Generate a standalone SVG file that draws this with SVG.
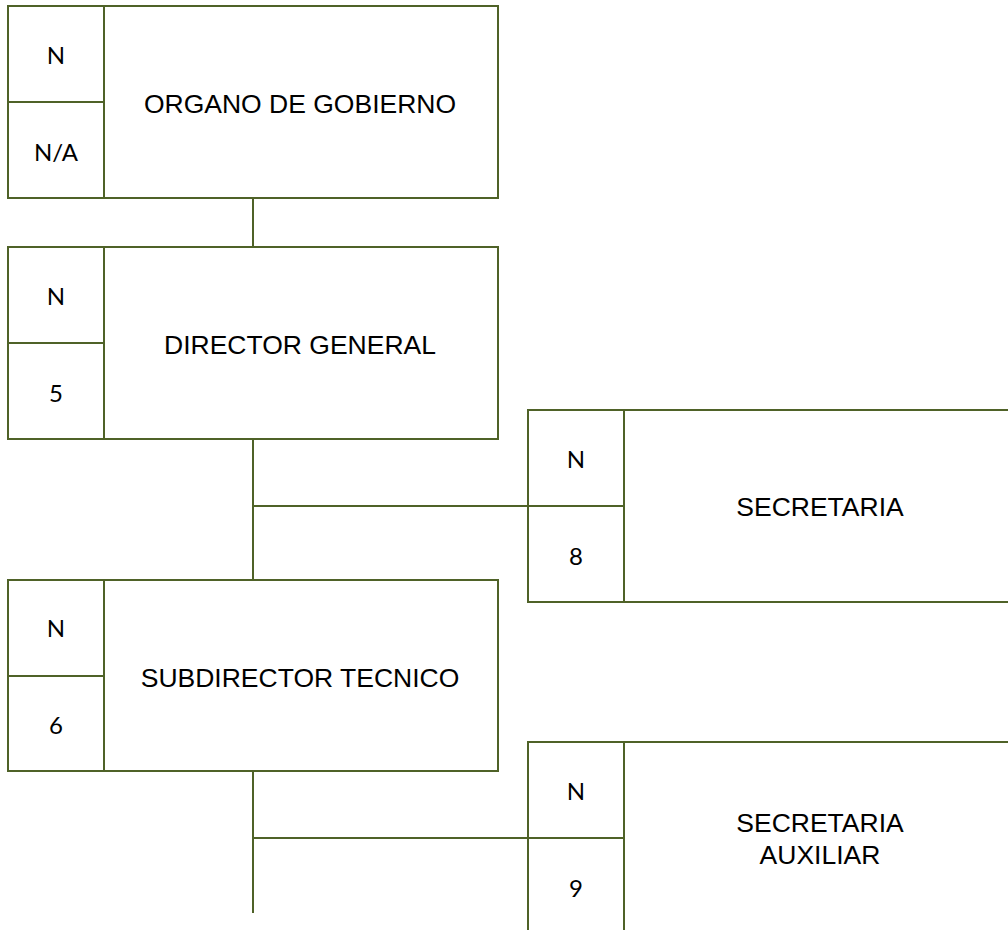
<svg xmlns="http://www.w3.org/2000/svg" width="1008" height="930" viewBox="0 0 1008 930">
  <style>
    .box { fill: #ffffff; stroke: #4f6228; stroke-width: 2; }
    .div { fill: none; stroke: #4f6228; stroke-width: 2; }
    .conn { fill: none; stroke: #4f6228; stroke-width: 2; }
    .title { font-family: "Liberation Sans", Arial, sans-serif; font-size: 26.5px; fill: #000000; text-anchor: middle; }
    .code { font-family: Lato, "Open Sans", sans-serif; font-size: 24px; fill: #000000; text-anchor: middle; }
  </style>

  <rect width="1008" height="930" fill="#ffffff"/>

  <!-- connectors -->
  <g id="connectors">
    <line class="conn" x1="253" y1="198" x2="253" y2="247"/>
    <line class="conn" x1="253" y1="439" x2="253" y2="580"/>
    <line class="conn" x1="253" y1="506" x2="528" y2="506"/>
    <line class="conn" x1="253" y1="771" x2="253" y2="913"/>
    <line class="conn" x1="253" y1="838" x2="528" y2="838"/>
  </g>

  <g id="organo-de-gobierno">
    <rect class="box" x="8" y="6" width="490" height="192"/>
    <line class="div" x1="104" y1="6" x2="104" y2="198"/>
    <line class="div" x1="8" y1="102" x2="104" y2="102"/>
    <text class="code" x="56" y="64">N</text>
    <text class="code" x="56" y="161">N/A</text>
    <text class="title" x="300" y="113">ORGANO DE GOBIERNO</text>
  </g>

  <g id="director-general">
    <rect class="box" x="8" y="247" width="490" height="192"/>
    <line class="div" x1="104" y1="247" x2="104" y2="439"/>
    <line class="div" x1="8" y1="343" x2="104" y2="343"/>
    <text class="code" x="56" y="305">N</text>
    <text class="code" x="56" y="402">5</text>
    <text class="title" x="300" y="354">DIRECTOR GENERAL</text>
  </g>

  <g id="secretaria">
    <rect class="box" x="528" y="410" width="492" height="192"/>
    <line class="div" x1="624" y1="410" x2="624" y2="602"/>
    <line class="div" x1="528" y1="506" x2="624" y2="506"/>
    <text class="code" x="576" y="468">N</text>
    <text class="code" x="576" y="565">8</text>
    <text class="title" x="820" y="516">SECRETARIA</text>
  </g>

  <g id="subdirector-tecnico">
    <rect class="box" x="8" y="580" width="490" height="191"/>
    <line class="div" x1="104" y1="580" x2="104" y2="771"/>
    <line class="div" x1="8" y1="676" x2="104" y2="676"/>
    <text class="code" x="56" y="637">N</text>
    <text class="code" x="56" y="734">6</text>
    <text class="title" x="300" y="687">SUBDIRECTOR TECNICO</text>
  </g>

  <g id="secretaria-auxiliar">
    <rect class="box" x="528" y="742" width="492" height="200"/>
    <line class="div" x1="624" y1="742" x2="624" y2="942"/>
    <line class="div" x1="528" y1="838" x2="624" y2="838"/>
    <text class="code" x="576" y="800">N</text>
    <text class="code" x="576" y="897">9</text>
    <text class="title" x="820" y="832">SECRETARIA</text>
    <text class="title" x="820" y="864">AUXILIAR</text>
  </g>
</svg>
